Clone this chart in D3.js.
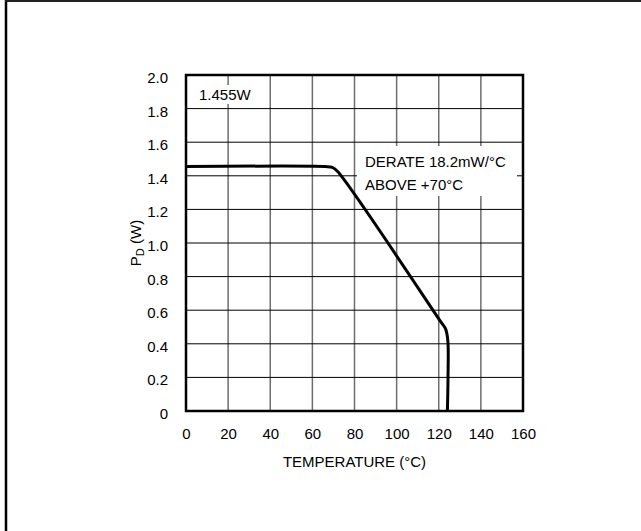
<!DOCTYPE html>
<html>
<head>
<meta charset="utf-8">
<script src="https://cdn.jsdelivr.net/npm/d3@7"></script>
<style>
  body { margin: 0; background: #fff; }
  svg text { font-family: "Liberation Sans", Arial, sans-serif; font-size: 15px; fill: #000; }
</style>
</head>
<body>
<div id="chart"></div>
<script>
// data
const tempTicks = [0, 20, 40, 60, 80, 100, 120, 140, 160];
const powerTicks = [0, 0.2, 0.4, 0.6, 0.8, 1.0, 1.2, 1.4, 1.6, 1.8, 2.0];
const powerTickLabels = ["0", "0.2", "0.4", "0.6", "0.8", "1.0", "1.2", "1.4", "1.6", "1.8", "2.0"];

// derating curve (°C, W)
const curveTemp = [0, 66, 69.5, 72, 121, 123.2, 124.3, 124.4, 124.1];
const curvePower = [1.455, 1.455, 1.45, 1.425, 0.53, 0.49, 0.42, 0.2, 0];

const width = 641,
      height = 531;

const plot = {left: 186, right: 523, top: 75, bottom: 411};

const svg = d3.select("#chart").append("svg")
    .attr("width", width)
    .attr("height", height);

// outer frame (only left + top show)
svg.append("line")
    .attr("x1", 6).attr("x2", 6).attr("y1", 0).attr("y2", height)
    .attr("stroke", "#000").attr("stroke-width", 2.5);
svg.append("line")
    .attr("x1", 5).attr("x2", width).attr("y1", 1).attr("y2", 1)
    .attr("stroke", "#222").attr("stroke-width", 2);

const x = d3.scaleLinear()
    .domain([0, 160])
    .range([plot.left, plot.right]);

const y = d3.scaleLinear()
    .domain([0, 2])
    .range([plot.bottom, plot.top]);

// grid: verticals gray, horizontals black
svg.append("g")
  .selectAll("line")
  .data(tempTicks)
  .join("line")
    .attr("x1", d => x(d)).attr("x2", d => x(d))
    .attr("y1", plot.top).attr("y2", plot.bottom)
    .attr("stroke", "#6e6e6e")
    .attr("stroke-width", 1.5);

svg.append("g")
  .selectAll("line")
  .data(powerTicks)
  .join("line")
    .attr("x1", plot.left).attr("x2", plot.right)
    .attr("y1", d => y(d)).attr("y2", d => y(d))
    .attr("stroke", "#000")
    .attr("stroke-width", 1);

// white boxes behind the notes
svg.append("rect")
    .attr("x", 196).attr("y", 85).attr("width", 58).attr("height", 19)
    .attr("fill", "#fff");
svg.append("rect")
    .attr("x", 357).attr("y", 146).attr("width", 160).attr("height", 50)
    .attr("fill", "#fff");

// the curve
const line = d3.line()
    .x((d, i) => x(curveTemp[i]))
    .y(d => y(d))
    .curve(d3.curveCatmullRom.alpha(0.5));

svg.append("path")
    .datum(curvePower)
    .attr("d", line)
    .attr("fill", "none")
    .attr("stroke", "#000")
    .attr("stroke-width", 3)
    .attr("stroke-linejoin", "round");

// plot frame
svg.append("rect")
    .attr("x", plot.left).attr("y", plot.top)
    .attr("width", plot.right - plot.left)
    .attr("height", plot.bottom - plot.top)
    .attr("fill", "none")
    .attr("stroke", "#000")
    .attr("stroke-width", 2.5);

// axes
const xAxis = g => g
    .attr("transform", `translate(0,${plot.bottom})`)
    .call(d3.axisBottom(x).tickValues(tempTicks).tickFormat(d3.format("d")).tickSize(0).tickPadding(17))
    .call(g => g.select(".domain").remove())
    .call(g => g.selectAll("text").style("font-size", "15px").attr("fill", "#000"));

const yAxis = g => g
    .attr("transform", `translate(${plot.left},0)`)
    .call(d3.axisLeft(y).tickValues(powerTicks).tickFormat((d, i) => powerTickLabels[i]).tickSize(0).tickPadding(18))
    .call(g => g.select(".domain").remove())
    .call(g => g.selectAll("text").attr("dy", "0.5em").style("font-size", "15px").attr("fill", "#000"));

svg.append("g").call(xAxis);
svg.append("g").call(yAxis);

// axis titles
svg.append("text")
    .attr("x", (plot.left + plot.right) / 2)
    .attr("y", 467)
    .attr("text-anchor", "middle")
    .text("TEMPERATURE (°C)");

const yTitle = svg.append("text")
    .attr("transform", `translate(141,${(plot.top + plot.bottom) / 2}) rotate(-90)`)
    .attr("text-anchor", "middle");
yTitle.append("tspan").text("P");
yTitle.append("tspan").attr("dy", 3).style("font-size", "11px").text("D");
yTitle.append("tspan").attr("dy", -3).text(" (W)");

// notes
svg.append("text").attr("x", 199).attr("y", 100).text("1.455W");
svg.append("text").attr("x", 365).attr("y", 167).text("DERATE 18.2mW/°C");
svg.append("text").attr("x", 365).attr("y", 190).text("ABOVE +70°C");
</script>
</body>
</html>
